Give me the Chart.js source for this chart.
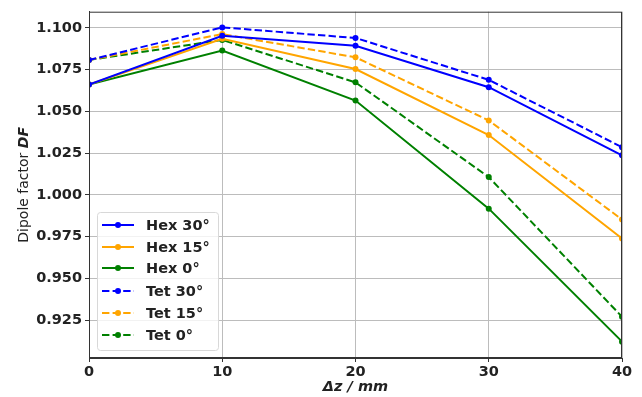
<!DOCTYPE html>
<html>
<head>
<meta charset="utf-8">
<script src="https://cdn.jsdelivr.net/npm/chart.js@4"></script>
<style>
  html, body { margin: 0; padding: 0; background: #fff; }
  #wrap { width: 642px; height: 397px; }
</style>
</head>
<body>
<div id="wrap"><canvas id="chart" width="642" height="397"></canvas></div>
<script>
// values
const dz = [0, 10, 20, 30, 40];
const hex30 = [1.0660, 1.0952, 1.0892, 1.0644, 1.0236];
const hex15 = [1.0660, 1.0934, 1.0753, 1.0358, 0.9738];
const hex0 = [1.0660, 1.0863, 1.0564, 0.9917, 0.9121];
const tet30 = [1.0807, 1.1002, 1.0939, 1.0688, 1.0285];
const tet15 = [1.0807, 1.0962, 1.0823, 1.0445, 0.9852];
const tet0 = [1.0807, 1.0927, 1.0673, 1.0106, 0.9270];
const xTicks = [0, 10, 20, 30, 40];
const yTicks = [0.925, 0.95, 0.975, 1.0, 1.025, 1.05, 1.075, 1.1];

const BLUE = '#0000ff', ORANGE = '#ffa500', GREEN = '#008000';
const DASH = [7.4, 3.2];
const FONT = "'DejaVu Sans', sans-serif";
const FS = 14.5;

function series(label, ys, color, dashed) {
  return {
    label: label,
    data: dz.map((x, i) => ({ x: x, y: ys[i] })),
    borderColor: color,
    backgroundColor: color,
    borderWidth: 2,
    borderDash: dashed ? DASH : [],
    pointRadius: 3,
    pointHoverRadius: 3,
    pointBorderWidth: 0,
    tension: 0,
    fill: false
  };
}

const datasets = [
  series('Hex 30°', hex30, BLUE, false),
  series('Hex 15°', hex15, ORANGE, false),
  series('Hex 0°', hex0, GREEN, false),
  series('Tet 30°', tet30, BLUE, true),
  series('Tet 15°', tet15, ORANGE, true),
  series('Tet 0°', tet0, GREEN, true)
];

// frame, axis titles and the matplotlib-like legend box
const decorations = {
  id: 'decorations',
  afterDraw(chart) {
    const ctx = chart.ctx;
    const a = chart.chartArea;
    ctx.save();
    ctx.strokeStyle = '#333';
    ctx.lineWidth = 1;
    ctx.strokeRect(a.left + 0.5, a.top + 0.5, a.right - a.left - 1, a.bottom - a.top - 1);

    // x title
    ctx.fillStyle = '#222';
    ctx.textAlign = 'center';
    ctx.textBaseline = 'middle';
    ctx.font = "italic bold " + FS + "px " + FONT;
    ctx.fillText('Δz / mm', (a.left + a.right) / 2, 387);

    // y title, "DF" bold italic
    ctx.translate(24, (a.top + a.bottom) / 2);
    ctx.rotate(-Math.PI / 2);
    const p1 = 'Dipole factor ', p2 = 'DF';
    ctx.font = "14px " + FONT;
    const w1 = ctx.measureText(p1).width;
    ctx.font = "italic bold 14px " + FONT;
    const w2 = ctx.measureText(p2).width;
    ctx.textAlign = 'left';
    ctx.font = "14px " + FONT;
    ctx.fillText(p1, -(w1 + w2) / 2, 0);
    ctx.font = "italic bold 14px " + FONT;
    ctx.fillText(p2, -(w1 + w2) / 2 + w1, 0);
    ctx.restore();

    // legend
    ctx.save();
    const bx = 97, by = 212, bw = 121, bh = 138;
    ctx.fillStyle = 'rgba(255,255,255,0.8)';
    ctx.strokeStyle = '#d8d8d8';
    ctx.lineWidth = 1;
    ctx.beginPath();
    ctx.roundRect(bx + 0.5, by + 0.5, bw, bh, 3);
    ctx.fill();
    ctx.stroke();
    const rows = [225, 247, 268, 291, 313, 335];
    ctx.font = "bold " + FS + "px " + FONT;
    ctx.textBaseline = 'middle';
    ctx.textAlign = 'left';
    datasets.forEach((ds, i) => {
      const y = rows[i];
      ctx.strokeStyle = ds.borderColor;
      ctx.fillStyle = ds.borderColor;
      ctx.lineWidth = 2;
      ctx.setLineDash(ds.borderDash);
      ctx.beginPath();
      ctx.moveTo(102, y);
      ctx.lineTo(134, y);
      ctx.stroke();
      ctx.setLineDash([]);
      ctx.beginPath();
      ctx.arc(118, y, 3, 0, Math.PI * 2);
      ctx.fill();
      ctx.fillStyle = '#222';
      ctx.fillText(ds.label, 146, y + 1);
    });
    ctx.restore();
  }
};

new Chart(document.getElementById('chart').getContext('2d'), {
  type: 'line',
  data: { datasets: datasets },
  options: {
    responsive: false,
    animation: false,
    layout: { padding: { top: 11, right: 20, left: 0, bottom: 0 } },
    plugins: { legend: { display: false }, tooltip: { enabled: false } },
    scales: {
      x: {
        type: 'linear',
        min: 0,
        max: 40,
        afterBuildTicks: (s) => { s.ticks = xTicks.map(v => ({ value: v })); },
        afterFit: (s) => { s.height = 39; },
        grid: { color: '#bcbcbc', lineWidth: 1, tickLength: 4, tickColor: '#333' },
        border: { color: '#333', width: 1 },
        ticks: {
          color: '#222',
          padding: 2,
          maxRotation: 0,
          font: { family: FONT, size: FS, weight: 'bold' }
        }
      },
      y: {
        type: 'linear',
        min: 0.9023,
        max: 1.1096,
        afterBuildTicks: (s) => { s.ticks = yTicks.map(v => ({ value: v })); },
        afterFit: (s) => { s.width = 89; },
        grid: { color: '#bcbcbc', lineWidth: 1, tickLength: 4, tickColor: '#333' },
        border: { color: '#333', width: 1 },
        ticks: {
          color: '#222',
          padding: 3,
          callback: (v) => v.toFixed(3),
          font: { family: FONT, size: FS, weight: 'bold' }
        }
      }
    }
  },
  plugins: [decorations]
});
</script>
</body>
</html>
